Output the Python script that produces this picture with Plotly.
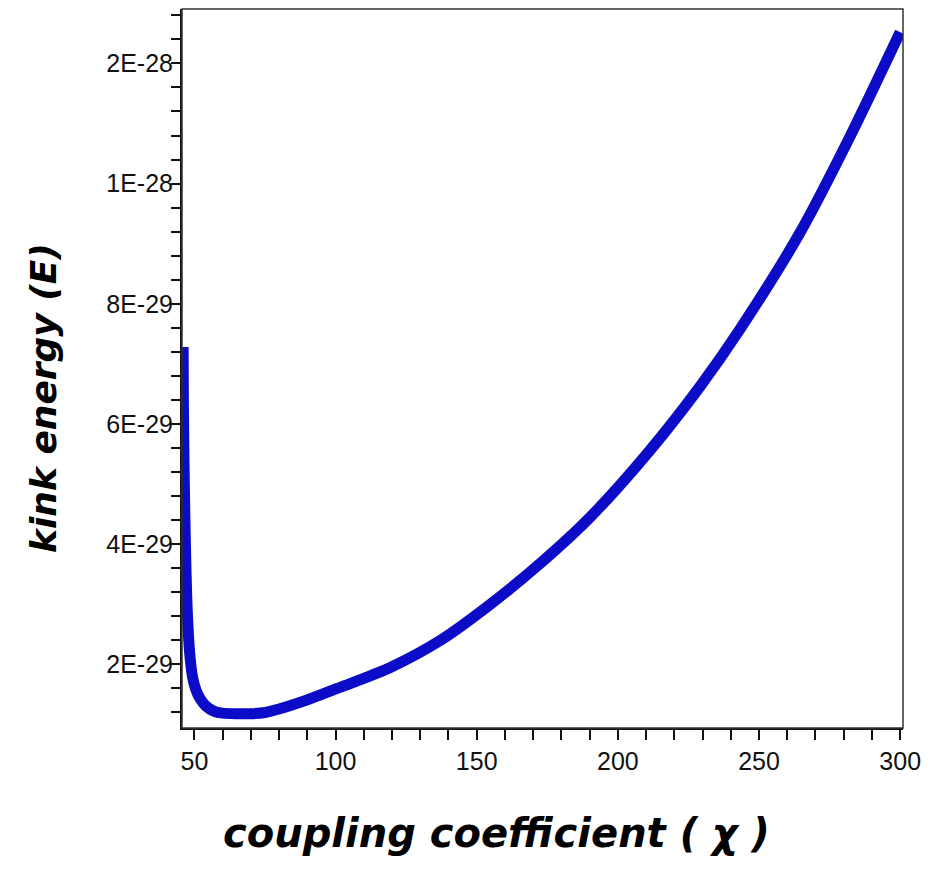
import plotly.graph_objects as go

# coupling coefficient (chi)
chi = [46.0, 46.1, 46.3, 46.6, 47.0, 47.5, 48.3, 49.3, 50.5, 52.0, 54.0, 57.0, 60.0,
       65.0, 70.0, 75.0, 81.5, 90.0, 101.7, 119.4, 137.1, 154.8, 172.5, 190.2, 211.5,
       229.2, 243.3, 264.6, 282.3, 300.0]
# kink energy (E)
energy = [7.28e-29, 6.3e-29, 5.4e-29, 4.5e-29, 3.6e-29, 2.85e-29, 2.2e-29, 1.8e-29,
          1.58e-29, 1.43e-29, 1.31e-29, 1.22e-29, 1.19e-29, 1.18e-29, 1.18e-29, 1.2e-29,
          1.28e-29, 1.41e-29, 1.62e-29, 1.95e-29, 2.40e-29, 3.00e-29, 3.68e-29, 4.45e-29,
          5.57e-29, 6.63e-29, 7.58e-29, 9.19e-29, 10.79e-29, 12.52e-29]

x_tick_vals = list(range(50, 301, 10))
x_tick_text = [str(v) if v % 50 == 0 else "" for v in x_tick_vals]

y_major_vals = [2e-29, 4e-29, 6e-29, 8e-29, 10e-29, 12e-29]
y_major_text = ["2E-29", "4E-29", "6E-29", "8E-29", "1E-28", "2E-28"]
y_tick_vals = [k * 4e-30 for k in range(3, 33)]
y_tick_text = []
for v in y_tick_vals:
    lab = ""
    for mv, mt in zip(y_major_vals, y_major_text):
        if abs(v - mv) < 1e-31:
            lab = mt
    y_tick_text.append(lab)

tick_font = dict(family="Liberation Sans Narrow, Arial Narrow, Liberation Sans, Arial", size=25, color="#111")
title_family = "DejaVu Sans, Liberation Sans, Arial"

fig = go.Figure()
fig.add_trace(go.Scatter(x=chi, y=energy, mode="lines",
                         line=dict(color="#0b0bc8", width=11, shape="spline", smoothing=0.8),
                         showlegend=False, hoverinfo="skip"))

fig.update_layout(
    width=932, height=869,
    margin=dict(l=182, r=29, t=9, b=141),
    paper_bgcolor="white", plot_bgcolor="white",
    xaxis=dict(range=[45.6, 301], tickvals=x_tick_vals, ticktext=x_tick_text, ticks="outside",
               ticklen=10, tickwidth=2, tickcolor="#111", showgrid=False, zeroline=False,
               showline=True, linewidth=2, linecolor="#111", tickfont=tick_font),
    yaxis=dict(range=[0.942e-29, 1.2905e-28], tickvals=y_tick_vals, ticktext=y_tick_text, ticks="outside",
               ticklen=9, tickwidth=2, tickcolor="#111", showgrid=False, zeroline=False,
               showline=True, linewidth=2, linecolor="#111", tickfont=tick_font,
               ticklabelstandoff=-7),
    shapes=[dict(type="rect", xref="paper", yref="paper", x0=0, y0=0, x1=1, y1=1,
                 line=dict(color="#333", width=1.5))],
    annotations=[
        dict(text="<b><i>coupling coefficient ( χ )</i></b>", xref="paper", yref="paper",
             x=(496 - 182) / 721, y=-(833 - 728) / 719, xanchor="center", yanchor="middle",
             showarrow=False, font=dict(family=title_family, size=40, color="#000")),
        dict(text="<b><i>kink energy (E)</i></b>", xref="paper", yref="paper",
             x=-(182 - 43) / 721, y=(728 - 398) / 719, xanchor="center", yanchor="middle",
             textangle=-90, showarrow=False, font=dict(family=title_family, size=36, color="#000")),
    ],
)

fig.write_html("out.html")
